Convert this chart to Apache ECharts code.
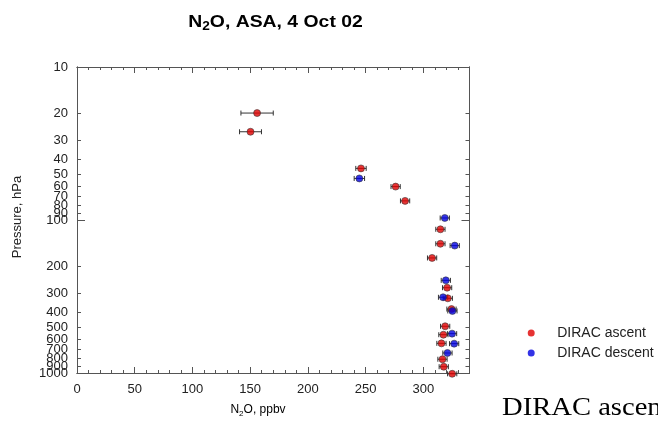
<!DOCTYPE html>
<html>
<head>
<meta charset="utf-8">
<script src="https://cdn.jsdelivr.net/npm/echarts@6/dist/echarts.min.js"></script>
<style>
  html, body { margin: 0; padding: 0; background: #fff; }
  #chart { width: 658px; height: 421px; }
</style>
</head>
<body>
<div id="chart"></div>
<script>
// DIRAC ascent (red)
var ascentPressure = [20, 26.5, 46, 60.5, 75, 115, 143, 177, 277, 325, 382, 495, 562, 640, 813, 910, 1012];
var ascentN2O      = [156, 150.3, 246, 276, 284.2, 314.8, 314.8, 307.6, 320.6, 321.2, 324.4, 318.9, 317.4, 315.7, 316.6, 317.7, 325];
var ascentErr      = [14, 9.5, 4.5, 4, 4, 4, 4, 4, 4, 4, 4, 4, 4, 4, 4, 4, 4];

// DIRAC descent (blue)
var descentPressure = [53.5, 97, 147, 248, 320, 393, 553, 643, 740];
var descentN2O      = [244.6, 318.6, 327.2, 319.5, 317.1, 325.2, 324.9, 326.7, 320.9];
var descentErr      = [4.5, 4, 4, 4, 4, 4, 4, 4, 4];

// axis ticks
var pressureTicks = [10, 20, 30, 40, 50, 60, 70, 80, 90, 100, 200, 300, 400, 500, 600, 700, 800, 900, 1000];
var pressureMajor = [10, 100, 1000];
// labels crowd near each decade end, so they are spread over three overlaid axes
// (echarts drops an end label that overlaps its neighbour)
var pressureLabelsA = [10, 40, 70, 100, 400, 700, 1000];
var pressureLabelsB = [20, 50, 80, 200, 500, 800];
var pressureLabelsC = [30, 60, 90, 300, 600, 900];
var n2oLabels = [0, 50, 100, 150, 200, 250, 300];
var n2oMinor  = [0, 10, 20, 30, 40, 50, 60, 70, 80, 90, 100, 110, 120, 130, 140, 150, 160, 170, 180, 190,
                 200, 210, 220, 230, 240, 250, 260, 270, 280, 290, 300, 310, 320, 330, 340];

var lg = function (p) { return Math.log10(p); };
var toData = function (ps, xs, es) {
    return ps.map(function (p, i) { return [xs[i], lg(p), es[i]]; });
};
var ascentData = toData(ascentPressure, ascentN2O, ascentErr);
var descentData = toData(descentPressure, descentN2O, descentErr);

var axisColor = '#555';
var font = 'Arial, "Liberation Sans", sans-serif';

function errorBars(params, api) {
    var x = api.value(0), y = api.value(1), e = api.value(2);
    var lo = api.coord([x - e, y]);
    var hi = api.coord([x + e, y]);
    var h = 2.5;
    var st = { stroke: '#333', lineWidth: 1 };
    return {
        type: 'group',
        children: [
            { type: 'line', shape: { x1: lo[0], y1: lo[1], x2: hi[0], y2: hi[1] }, style: st },
            { type: 'line', shape: { x1: lo[0], y1: lo[1] - h, x2: lo[0], y2: lo[1] + h }, style: st },
            { type: 'line', shape: { x1: hi[0], y1: hi[1] - h, x2: hi[0], y2: hi[1] + h }, style: st }
        ]
    };
}

function xAx(pos, ticks, len, labels) {
    return {
        type: 'value', position: pos, min: 0, max: 340,
        axisLine: { show: true, onZero: false, lineStyle: { color: axisColor, width: 1 } },
        axisTick: { show: true, inside: true, length: len, customValues: ticks, lineStyle: { color: axisColor } },
        axisLabel: labels ? { show: true, customValues: n2oLabels, margin: 10, fontSize: 13, color: '#222', fontFamily: font } : { show: false },
        splitLine: { show: false }
    };
}
function yAx(pos, ticks, len, labels) {
    return {
        type: 'value', position: pos, min: 1, max: 3, inverse: true,
        axisLine: { show: !!ticks, onZero: false, lineStyle: { color: axisColor, width: 1 } },
        axisTick: ticks ? { show: true, inside: true, length: len, customValues: ticks.map(lg), lineStyle: { color: axisColor } } : { show: false },
        axisLabel: labels ? {
            show: true, customValues: labels.map(lg), margin: 9, fontSize: 13, color: '#222', fontFamily: font,
            formatter: function (v) { return String(Math.round(Math.pow(10, v))); }
        } : { show: false },
        splitLine: { show: false }
    };
}

var myChart = echarts.init(document.getElementById('chart'));
var option = {
    backgroundColor: '#fff',
    animation: false,
    grid: { left: 77, top: 67, right: 188.5, bottom: 48 },
    xAxis: [
        xAx('bottom', n2oLabels, 6, true),
        xAx('bottom', n2oMinor, 3, false),
        xAx('top', n2oLabels, 6, false),
        xAx('top', n2oMinor, 3, false)
    ],
    yAxis: [
        yAx('left', pressureMajor, 8, pressureLabelsA),
        yAx('left', pressureTicks, 4, pressureLabelsB),
        yAx('left', null, 0, pressureLabelsC),
        yAx('right', pressureMajor, 8, null),
        yAx('right', pressureTicks, 4, null)
    ],
    legend: {
        orient: 'vertical', left: 527.7, top: 326, itemGap: 6, padding: 0,
        itemWidth: 8, itemHeight: 7, icon: 'circle',
        itemStyle: { borderWidth: 0 },
        data: ['DIRAC ascent', 'DIRAC descent'],
        textStyle: { fontSize: 14, color: '#222', fontFamily: font, padding: [0, 0, 0, 17] }
    },
    graphic: [
        {
            type: 'text', x: 275.5, y: 22, scaleX: 1.14,
            style: {
                text: '{a|N}{s|2}{a|O, ASA, 4 Oct 02}',
                align: 'center', verticalAlign: 'middle',
                rich: {
                    a: { fontSize: 17, fontWeight: 'bold', fontFamily: font, color: '#111', lineHeight: 22 },
                    s: { fontSize: 12, fontWeight: 'bold', fontFamily: font, color: '#111', lineHeight: 22, verticalAlign: 'bottom' }
                }
            }
        },
        {
            type: 'text', x: 258, y: 410,
            style: {
                text: '{a|N}{s|2}{a|O, ppbv}',
                align: 'center', verticalAlign: 'middle',
                rich: {
                    a: { fontSize: 12, fontFamily: font, color: '#222', lineHeight: 16 },
                    s: { fontSize: 8, fontFamily: font, color: '#222', lineHeight: 16, verticalAlign: 'bottom' }
                }
            }
        },
        {
            type: 'text', x: 17, y: 217, rotation: Math.PI / 2,
            style: { text: 'Pressure, hPa', font: '13px ' + font, fill: '#222', align: 'center', verticalAlign: 'middle' }
        },
        {
            type: 'text', x: 502, y: 421, scaleX: 1.1,
            style: { text: 'DIRAC ascent', font: '26px "Liberation Serif", "Times New Roman", serif', fill: '#000', align: 'left', verticalAlign: 'bottom' }
        }
    ],
    series: [
        { type: 'custom', renderItem: errorBars, data: ascentData, encode: { x: 0, y: 1 }, clip: false, silent: true, z: 2 },
        { type: 'custom', renderItem: errorBars, data: descentData, encode: { x: 0, y: 1 }, clip: false, silent: true, z: 2 },
        {
            name: 'DIRAC ascent', type: 'scatter', data: ascentData, clip: false, symbolSize: 7, z: 3,
            itemStyle: { color: '#e00000', borderColor: '#333', borderWidth: 0.7 }
        },
        {
            name: 'DIRAC descent', type: 'scatter', data: descentData, clip: false, symbolSize: 7, z: 3,
            itemStyle: { color: '#0000e0', borderColor: '#333', borderWidth: 0.7 }
        }
    ]
};
myChart.setOption(option);
</script>
</body>
</html>
